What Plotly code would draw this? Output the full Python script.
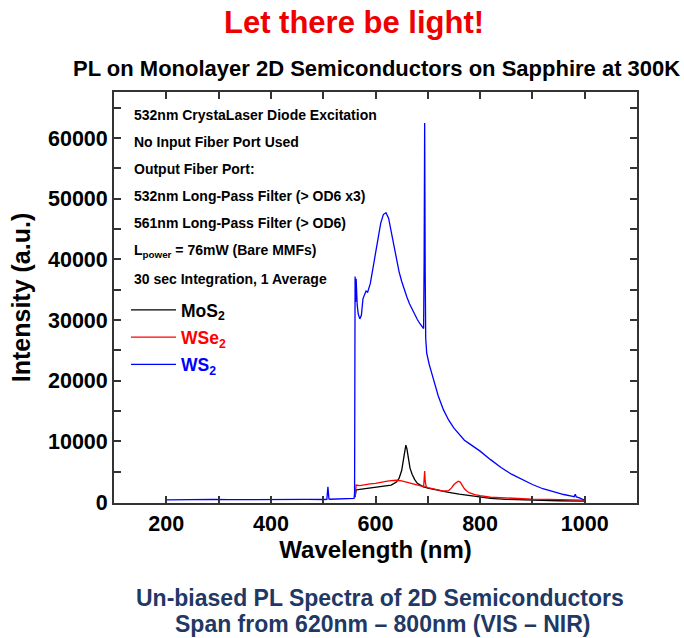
import plotly.graph_objects as go

# ---------------- data ----------------
ws2_wl = [200, 230, 260, 290, 320, 350, 380, 410, 440, 470, 500, 507, 509, 511, 513, 530, 555, 559,
          560, 561, 562, 563, 564, 565, 567, 570, 573, 576, 579, 582, 585, 590, 595, 600, 605, 610,
          615, 620, 625, 630, 635, 640, 645, 650, 655, 660, 665, 670, 675, 680, 685, 690, 692, 693,
          694, 695, 696, 698, 700, 703, 705, 710, 720, 730, 740, 750, 760, 770, 780, 790, 800, 820,
          840, 860, 880, 900, 920, 940, 960, 975, 980, 982, 984, 990, 995, 1000]
ws2_int = [380, 420, 360, 440, 400, 430, 390, 450, 410, 460, 430, 450, 2500, 500, 470, 480, 520, 600,
           1500, 37200, 33000, 36800, 33500, 32500, 31000, 30200, 30800, 33500, 34200, 34800, 34600,
           36000, 38500, 41000, 43500, 46000, 47400, 47700, 46800, 44600, 42000, 39800, 38000, 36400,
           35000, 33800, 32700, 31800, 30900, 30100, 29400, 28800, 28600, 40000, 62500, 38000, 27000,
           24500, 23500, 22600, 22000, 20500, 17500, 15200, 13500, 12200, 11100, 10200, 9600, 9000,
           8400, 7000, 5700, 4600, 3700, 2900, 2200, 1700, 1250, 1000, 900, 1300, 850, 700, 550, 300]

mos2_wl = [561, 563, 570, 580, 590, 600, 610, 620, 630, 640, 645, 650, 653, 656, 658, 660, 663, 666,
           670, 675, 680, 690, 700, 720, 740, 760, 780, 800, 820, 850, 900, 950, 1000]
mos2_int = [800, 2000, 2100, 2200, 2300, 2400, 2500, 2600, 2800, 3300, 3900, 5200, 7000, 8900, 9400,
            8800, 7000, 5600, 4600, 3700, 3100, 2600, 2300, 1900, 1600, 1300, 1050, 800, 600, 450, 300,
            220, 150]

wse2_wl = [561, 563, 570, 580, 590, 600, 610, 620, 630, 640, 650, 660, 670, 680, 690, 692, 693, 694,
           695, 697, 700, 710, 720, 730, 740, 745, 750, 755, 758, 762, 766, 770, 775, 780, 790, 800,
           820, 840, 860, 880, 900, 930, 960, 1000]
wse2_int = [900, 2800, 2700, 2900, 3000, 3100, 3300, 3400, 3550, 3600, 3500, 3300, 3000, 2800, 2600,
            2500, 3800, 5100, 3500, 2500, 2400, 2200, 2000, 1800, 1900, 2300, 2900, 3300, 3450, 3300,
            2800, 2200, 1800, 1500, 1250, 1050, 800, 700, 600, 550, 500, 450, 400, 330]

series_names = ["MoS<sub>2</sub>", "WSe<sub>2</sub>", "WS<sub>2</sub>"]
series_colors = ["#000000", "#ff0000", "#0000ff"]

x_ticks = [200, 400, 600, 800, 1000]
y_ticks = [0, 10000, 20000, 30000, 40000, 50000, 60000]

info_lines = [
    "532nm CrystaLaser Diode Excitation",
    "No Input Fiber Port Used",
    "Output Fiber Port:",
    "532nm Long-Pass Filter (> OD6 x3)",
    "561nm Long-Pass Filter (> OD6)",
    "L<sub>power</sub> = 76mW (Bare MMFs)",
    "30 sec Integration, 1 Average",
]

# ---------------- figure ----------------
FONT = "Liberation Sans, Arial, sans-serif"
W, H = 684, 638
ML, MR, MT, MB = 114, 47, 92, 135
PW, PH = W - ML - MR, H - MT - MB


def px(xp):
    return (xp - ML) / PW


def py(yp):
    return (H - MB - yp) / PH


fig = go.Figure()
for wl, it, nm, col in zip([mos2_wl, wse2_wl, ws2_wl], [mos2_int, wse2_int, ws2_int],
                           series_names, series_colors):
    fig.add_trace(go.Scatter(
        x=wl, y=it, mode="lines", line=dict(color=col, width=1.3),
        name=f"<span style='color:{col}'>{nm}</span>", legendgroup=nm,
    ))

axis_common = dict(
    showline=True, linecolor="#333333", linewidth=1.8, mirror="ticks",
    ticks="inside", ticklen=7, tickwidth=1.6, tickcolor="#333333",
    showgrid=False, zeroline=False, tickformat="d",
    tickfont=dict(family=FONT, size=21.5, color="black", weight="bold"),
)

fig.update_xaxes(
    range=[100, 1100], tickvals=x_ticks,
    minor=dict(dtick=100, ticks="inside", ticklen=7, tickwidth=1.6, tickcolor="#333333"),
    title=dict(text="Wavelength (nm)", font=dict(family=FONT, size=24, color="black", weight="bold"),
               standoff=6),
    **axis_common,
)
fig.update_yaxes(
    range=[-150, 67600], tickvals=y_ticks,
    minor=dict(dtick=5000, ticks="inside", ticklen=7, tickwidth=1.6, tickcolor="#333333"),
    title=dict(text="Intensity (a.u.)", font=dict(family=FONT, size=25, color="black", weight="bold"),
               standoff=10),
    **axis_common,
)

annotations = [
    dict(text="Let there be light!", x=px(354), y=py(22), font=dict(size=31, color="#ee0000", weight="bold")),
    dict(text="PL on Monolayer 2D Semiconductors on Sapphire at 300K", x=px(376), y=py(68),
         font=dict(size=22, color="black", weight="bold")),
    dict(text="Un-biased PL Spectra of 2D Semiconductors", x=px(380), y=py(598),
         font=dict(size=23, color="#1f3864", weight="bold")),
    dict(text="Span from 620nm \u2013 800nm (VIS \u2013 NIR)", x=px(382), y=py(624),
         font=dict(size=23, color="#1f3864", weight="bold")),
]
for a in annotations:
    a.update(xref="paper", yref="paper", showarrow=False, xanchor="center", yanchor="middle")
    a["font"]["family"] = FONT

info_y = [115, 142, 169, 196, 223, 251, 279]
for t, yy in zip(info_lines, info_y):
    annotations.append(dict(text=t, xref="paper", yref="paper", x=px(132), y=py(yy), showarrow=False,
                            xanchor="left", yanchor="middle",
                            font=dict(family=FONT, size=14, color="black", weight="bold")))

fig.update_layout(
    width=W, height=H, margin=dict(l=ML, r=MR, t=MT, b=MB),
    paper_bgcolor="white", plot_bgcolor="white",
    font=dict(family=FONT),
    annotations=annotations,
    showlegend=True,
    legend=dict(x=px(126), y=py(292), xanchor="left", yanchor="top",
                bgcolor="rgba(0,0,0,0)", traceorder="grouped", tracegroupgap=1.5,
                itemwidth=45,
                font=dict(family=FONT, size=17.5, color="black", weight="bold")),
)

fig.write_html("out.html")
